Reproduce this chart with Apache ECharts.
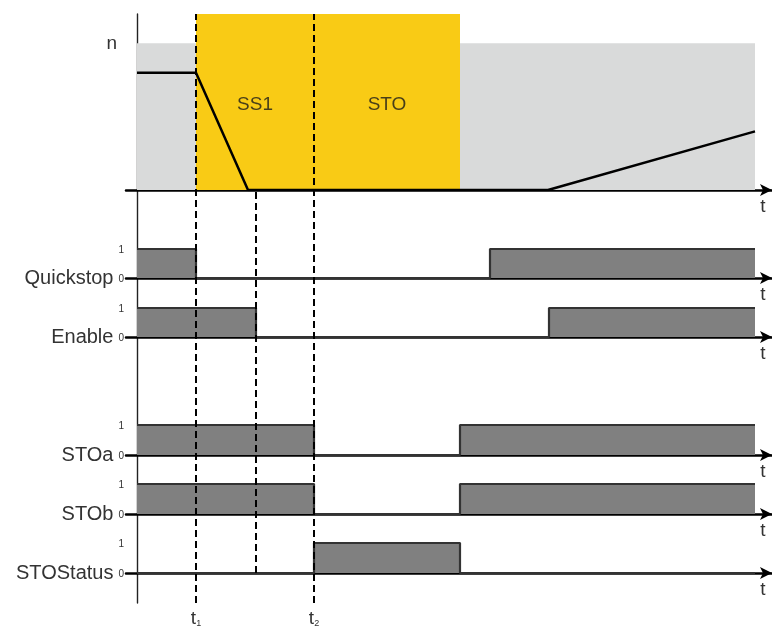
<!DOCTYPE html>
<html>
<head>
<meta charset="utf-8">
<script src="https://cdn.jsdelivr.net/npm/echarts@6/dist/echarts.min.js"></script>
<style>
html,body{margin:0;padding:0;background:#fff;}
#c{width:772px;height:629px;}
</style>
</head>
<body>
<div id="c"></div>
<script>
// ---- data (time in arbitrary units) ----
const axisRange = [-1.1, 63.5];
const speedTime = [0, 5.9, 11.1, 41.1, 61.8];
const speedValue = [0.8, 0.8, 0, 0, 0.4];
const availableTime = [0, 61.8];
const availableLevel = [1.0, 1.0];
const phaseNames = ['SS1', 'STO'];
const phaseStart = [5.9, 17.7];
const phaseEnd = [17.7, 32.3];
const signalNames = ['Quickstop', 'Enable', 'STOa', 'STOb', 'STOStatus'];
const signalTimes = [
  [0, 5.9, 35.3, 61.8],
  [0, 11.9, 41.2, 61.8],
  [0, 17.7, 32.3, 61.8],
  [0, 17.7, 32.3, 61.8],
  [0, 17.7, 32.3, 61.8]
];
const signalLevels = [
  [1, 0, 1, 1],
  [1, 0, 1, 1],
  [1, 0, 1, 1],
  [1, 0, 1, 1],
  [0, 1, 0, 0]
];
const markerTimes = [5.9, 17.7];
const markerSubs = ['1', '2'];
const enableOffTime = 11.9;

// ---- layout ----
const FONT = 'Liberation Sans, Arial, sans-serif';
const rowLayout = [
  {top: 249, height: 29},
  {top: 308, height: 29},
  {top: 425, height: 30},
  {top: 484, height: 30},
  {top: 543, height: 30}
];
const gridLeft = 126, gridRight = 0;

const grids = [], xAxes = [], yAxes = [], series = [];

function xAxisDef(gi, withArrow) {
  return {
    type: 'value', gridIndex: gi, min: axisRange[0], max: axisRange[1],
    axisLine: withArrow ? {show: true, symbol: ['none', 'arrow'], symbolSize: [9, 12],
      lineStyle: {color: '#000', width: 2.5}} : {show: false},
    axisTick: {show: false}, axisLabel: {show: false}, splitLine: {show: false},
    name: withArrow ? 't' : '', nameLocation: 'end', nameGap: -9,
    nameTextStyle: {fontFamily: FONT, fontSize: 19, color: '#333', align: 'center', verticalAlign: 'top', padding: [7, 0, 0, 0]}
  };
}

// grid 0: speed
grids.push({left: gridLeft, right: gridRight, top: 14, height: 176});
xAxes.push(xAxisDef(0, true));
yAxes.push({
  type: 'value', gridIndex: 0, min: 0, max: 1.2, interval: 0.2,
  axisLine: {show: false, onZero: false}, axisTick: {show: false}, splitLine: {show: false},
  axisLabel: {margin: 9, fontFamily: FONT, fontSize: 19, color: '#333', padding: [3, 0, 0, 0],
    formatter: v => Math.abs(v - 1) < 1e-6 ? 'n' : ''}
});
series.push({
  type: 'line', xAxisIndex: 0, yAxisIndex: 0, symbol: 'none', silent: true,
  data: availableTime.map((t, i) => [t, availableLevel[i]]),
  lineStyle: {width: 0}, areaStyle: {color: '#d9dada', opacity: 1}, z: 1
});
series.push({
  type: 'line', xAxisIndex: 0, yAxisIndex: 0, symbol: 'none', silent: true,
  data: [[phaseStart[0], 1.2], [phaseEnd[phaseEnd.length - 1], 1.2]],
  lineStyle: {width: 0}, areaStyle: {color: '#f9cb15', opacity: 1}, z: 2
});
series.push({
  type: 'line', xAxisIndex: 0, yAxisIndex: 0, symbol: 'none', silent: true,
  data: speedTime.map((t, i) => [t, speedValue[i]]),
  lineStyle: {color: '#000', width: 2.5}, z: 4
});
// phase labels, centred in each phase span
series.push({
  type: 'scatter', xAxisIndex: 0, yAxisIndex: 0, symbolSize: 1, silent: true, z: 5,
  itemStyle: {color: 'rgba(0,0,0,0)'},
  label: {show: true, position: 'inside', fontFamily: FONT, fontSize: 19, color: '#1a1a1a',
    formatter: p => p.name},
  data: phaseNames.map((n, i) => ({name: n, value: [(phaseStart[i] + phaseEnd[i]) / 2, 0.58]}))
});

// signal rows
signalNames.forEach((name, k) => {
  const gi = grids.length;
  grids.push({left: gridLeft, right: gridRight, top: rowLayout[k].top, height: rowLayout[k].height});
  xAxes.push(xAxisDef(gi, true));
  yAxes.push({
    type: 'value', gridIndex: gi, min: 0, max: 1, interval: 1,
    axisLine: {show: false, onZero: false}, axisTick: {show: false}, splitLine: {show: false},
    axisLabel: {
      margin: 2, fontFamily: FONT, color: '#333',
      formatter: v => v === 0 ? '{n|' + name + '}{s|0}' : '{s|1}',
      rich: {
        n: {fontFamily: FONT, fontSize: 20, color: '#333', padding: [0, 5, 0, 0]},
        s: {fontFamily: FONT, fontSize: 10, color: '#333', padding: [2, 0, 0, 0]}
      }
    }
  });
  series.push({
    type: 'line', xAxisIndex: gi, yAxisIndex: gi, symbol: 'none', silent: true, step: 'end',
    data: signalTimes[k].map((t, i) => [t, signalLevels[k][i]]),
    lineStyle: {color: '#333', width: 2.2},
    areaStyle: {color: '#808080', opacity: 1}, z: 3
  });
});

// overlay A: vertical axis + t1/t2 dashed lines
const oa = grids.length;
grids.push({left: gridLeft, right: gridRight, top: 14, height: 589});
xAxes.push({
  type: 'value', gridIndex: oa, min: axisRange[0], max: axisRange[1],
  axisLine: {show: false}, axisTick: {show: false}, splitLine: {show: false},
  axisLabel: {
    show: true, customValues: markerTimes, margin: 6, fontFamily: FONT, color: '#333',
    formatter: v => '{t|t}{s|' + markerSubs[markerTimes.indexOf(v)] + '}',
    rich: {t: {fontFamily: FONT, fontSize: 19, color: '#333'},
           s: {fontFamily: FONT, fontSize: 9, color: '#333', padding: [10, 0, 0, 0]}}
  }
});
yAxes.push({
  type: 'value', gridIndex: oa, min: 0, max: 1,
  axisLine: {show: true, onZero: true, lineStyle: {color: '#222', width: 1.4}},
  axisTick: {show: false}, axisLabel: {show: false}, splitLine: {show: false}
});
series.push({
  type: 'line', xAxisIndex: oa, yAxisIndex: oa, data: [], silent: true, z: 6,
  markLine: {
    silent: true, symbol: ['none', 'none'], label: {show: false},
    lineStyle: {color: '#000', width: 2, type: [7, 4]},
    data: markerTimes.map(t => ({xAxis: t}))
  }
});

// overlay B: enable-off dashed line
const ob = grids.length;
grids.push({left: gridLeft, right: gridRight, top: 190, height: 383});
xAxes.push({type: 'value', gridIndex: ob, min: axisRange[0], max: axisRange[1], show: false});
yAxes.push({type: 'value', gridIndex: ob, min: 0, max: 1, show: false});
series.push({
  type: 'line', xAxisIndex: ob, yAxisIndex: ob, data: [], silent: true, z: 6,
  markLine: {
    silent: true, symbol: ['none', 'none'], label: {show: false},
    lineStyle: {color: '#000', width: 2, type: [7, 4]},
    data: [{xAxis: enableOffTime}]
  }
});

const chart = echarts.init(document.getElementById('c'), null, {renderer: 'canvas'});
chart.setOption({
  animation: false,
  backgroundColor: '#fff',
  grid: grids, xAxis: xAxes, yAxis: yAxes, series: series
});
</script>
</body>
</html>
